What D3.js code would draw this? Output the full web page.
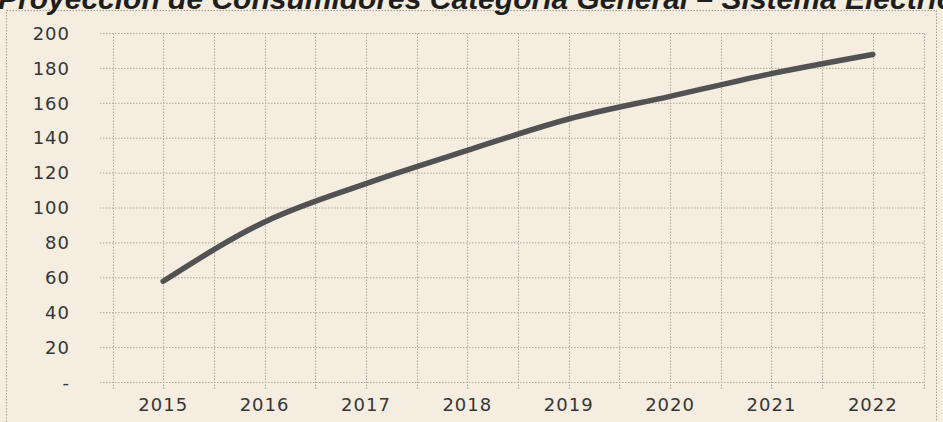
<!DOCTYPE html>
<html lang="es">
<head>
<meta charset="utf-8">
<style>
body { margin: 0; background: #f4ede0; }
svg { display: block; }
.title { font: italic bold 30px "Liberation Sans", Arial, sans-serif; fill: #1e1e1e; }
.tick text { font: 18px "DejaVu Sans", sans-serif; fill: #363636; letter-spacing: 1px; }
.grid line { stroke: #b3aa9a; stroke-width: 1; stroke-dasharray: 1.5,1.5; }
</style>
</head>
<body>
<script src="https://d3js.org/d3.v7.min.js"></script>
<script>
var years = ["2015", "2016", "2017", "2018", "2019", "2020", "2021", "2022"];
var consumers = [58, 92, 114, 133, 151, 164, 177, 188];
var yTicks = [0, 20, 40, 60, 80, 100, 120, 140, 160, 180, 200];

var width = 943, height = 422;
var svg = d3.select("body").append("svg")
    .attr("width", width)
    .attr("height", height);

// paper background
svg.append("rect").attr("width", width).attr("height", height).attr("fill", "#f4ede0");

// outer dotted frame
svg.append("rect")
    .attr("x", 6.5).attr("y", 10.5)
    .attr("width", 930).attr("height", 420)
    .attr("fill", "none")
    .attr("stroke", "#a49c8e")
    .attr("stroke-dasharray", "1.5,1.5");

// title, cut off by the top edge like the scan
svg.append("text")
    .attr("class", "title")
    .attr("x", -2).attr("y", 9)
    .text("Proyección de Consumidores Categoría General – Sistema Eléctrico");

var x = d3.scaleBand().domain(years).range([112.5, 923.5]).padding(0);
var y = d3.scaleLinear().domain([0, 200]).range([382.5, 33.5]);
var cx = function(d) { return x(d) + x.bandwidth() / 2; };

// vertical grid: category borders and centres
var vlines = [];
years.forEach(function(d) { vlines.push(x(d)); vlines.push(cx(d)); });
vlines.push(x.range()[1]);

var grid = svg.append("g").attr("class", "grid");
grid.selectAll("line.v").data(vlines).enter().append("line")
    .attr("class", "v")
    .attr("x1", function(d) { return Math.round(d) + 0.5; })
    .attr("x2", function(d) { return Math.round(d) + 0.5; })
    .attr("y1", y(200)).attr("y2", y(0) + 7);

grid.selectAll("line.h").data(yTicks).enter().append("line")
    .attr("class", "h")
    .attr("x1", 100).attr("x2", x.range()[1])
    .attr("y1", function(d) { return y(d); })
    .attr("y2", function(d) { return y(d); });

// y axis labels
var yAxis = d3.axisLeft(y)
    .tickValues(yTicks)
    .tickSize(0)
    .tickPadding(0)
    .tickFormat(function(d) { return d === 0 ? "-" : d; });
svg.append("g")
    .attr("transform", "translate(70,0)")
    .call(yAxis)
    .call(function(g) { g.select(".domain").remove(); });

// x axis labels
var xAxis = d3.axisBottom(x).tickSize(0).tickPadding(0);
svg.append("g")
    .attr("transform", "translate(0,398)")
    .call(xAxis)
    .call(function(g) { g.select(".domain").remove(); });

// series line
var line = d3.line()
    .x(function(d, i) { return cx(years[i]); })
    .y(function(d) { return y(d); })
    .curve(d3.curveMonotoneX);

svg.append("path")
    .datum(consumers)
    .attr("d", line)
    .attr("fill", "none")
    .attr("stroke", "#525252")
    .attr("stroke-width", 5.5)
    .attr("stroke-linecap", "round")
    .attr("stroke-linejoin", "round");
</script>
</body>
</html>
